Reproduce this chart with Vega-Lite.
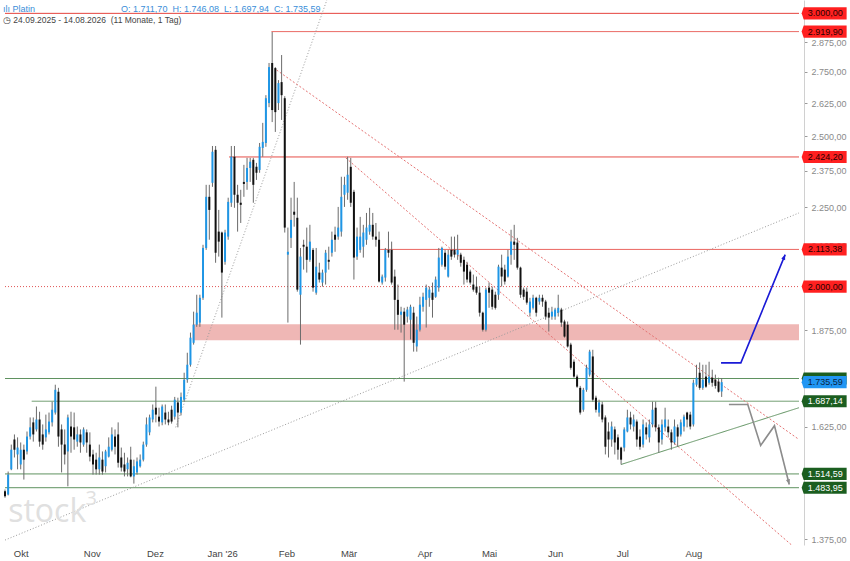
{
  "$schema": "https://vega.github.io/schema/vega-lite/v6.json",
  "width": 804,
  "height": 545,
  "autosize": {"type": "none"},
  "padding": {"left": 0, "top": 0, "right": 46, "bottom": 16},
  "background": "white",
  "config": {"view": {"stroke": null}, "font": "Liberation Sans"},
  "title": {
    "text": "ılı Platin\u2003\u2003\u2003\u2003\u2003\u2003\u2003\u2003\u2003\u00a0\u00a0O: 1.711,70\u00a0\u00a0H: 1.746,08\u00a0\u00a0L: 1.697,94\u00a0\u00a0C: 1.735,59",
    "subtitle": "◷ 24.09.2025 - 14.08.2026\u00a0 (11 Monate, 1 Tag)",
    "anchor": "start", "frame": "group", "orient": "top", "offset": -24, "dx": 3,
    "fontSize": 9, "fontWeight": "normal", "color": "#3a8ed8",
    "subtitleFontSize": 8.5, "subtitleColor": "#444", "subtitlePadding": 2
  },
  "resolve": {"scale": {"color": "independent", "strokeDash": "independent"}},
  "datasets": {
    "candles": [
      {"t":0,"o":1476,"h":1480,"l":1462,"c":1465},
      {"t":1,"o":1469,"h":1520,"l":1467,"c":1513},
      {"t":2,"o":1525,"h":1582,"l":1523,"c":1570},
      {"t":3,"o":1594,"h":1606,"l":1552,"c":1570},
      {"t":4,"o":1559,"h":1599,"l":1525,"c":1575},
      {"t":5,"o":1536,"h":1587,"l":1525,"c":1570},
      {"t":6,"o":1570,"h":1582,"l":1502,"c":1547},
      {"t":7,"o":1566,"h":1613,"l":1559,"c":1601},
      {"t":8,"o":1601,"h":1647,"l":1594,"c":1623},
      {"t":9,"o":1635,"h":1647,"l":1589,"c":1606},
      {"t":10,"o":1618,"h":1674,"l":1613,"c":1642},
      {"t":11,"o":1642,"h":1661,"l":1577,"c":1589},
      {"t":12,"o":1606,"h":1630,"l":1570,"c":1582},
      {"t":13,"o":1599,"h":1654,"l":1589,"c":1618},
      {"t":14,"o":1611,"h":1659,"l":1606,"c":1637},
      {"t":15,"o":1635,"h":1686,"l":1625,"c":1666},
      {"t":16,"o":1659,"h":1729,"l":1654,"c":1716},
      {"t":17,"o":1711,"h":1721,"l":1577,"c":1601},
      {"t":18,"o":1618,"h":1630,"l":1518,"c":1582},
      {"t":19,"o":1582,"h":1618,"l":1536,"c":1559},
      {"t":20,"o":1566,"h":1654,"l":1487,"c":1647},
      {"t":21,"o":1625,"h":1661,"l":1563,"c":1601},
      {"t":22,"o":1623,"h":1659,"l":1570,"c":1594},
      {"t":23,"o":1589,"h":1625,"l":1577,"c":1606},
      {"t":24,"o":1606,"h":1618,"l":1563,"c":1587},
      {"t":25,"o":1582,"h":1623,"l":1577,"c":1618},
      {"t":26,"o":1611,"h":1618,"l":1563,"c":1587},
      {"t":27,"o":1582,"h":1611,"l":1543,"c":1554},
      {"t":28,"o":1559,"h":1570,"l":1513,"c":1536},
      {"t":29,"o":1547,"h":1563,"l":1513,"c":1525},
      {"t":30,"o":1525,"h":1582,"l":1513,"c":1552},
      {"t":31,"o":1547,"h":1566,"l":1513,"c":1520},
      {"t":32,"o":1532,"h":1570,"l":1518,"c":1566},
      {"t":33,"o":1554,"h":1599,"l":1552,"c":1577},
      {"t":34,"o":1570,"h":1623,"l":1566,"c":1606},
      {"t":35,"o":1601,"h":1618,"l":1559,"c":1577},
      {"t":36,"o":1606,"h":1635,"l":1529,"c":1540},
      {"t":37,"o":1552,"h":1575,"l":1520,"c":1529},
      {"t":38,"o":1536,"h":1563,"l":1509,"c":1520},
      {"t":39,"o":1525,"h":1552,"l":1509,"c":1540},
      {"t":40,"o":1547,"h":1577,"l":1507,"c":1509},
      {"t":41,"o":1509,"h":1547,"l":1493,"c":1532},
      {"t":42,"o":1518,"h":1552,"l":1513,"c":1543},
      {"t":43,"o":1532,"h":1559,"l":1529,"c":1547},
      {"t":44,"o":1547,"h":1589,"l":1543,"c":1582},
      {"t":45,"o":1582,"h":1647,"l":1577,"c":1630},
      {"t":46,"o":1611,"h":1654,"l":1604,"c":1647},
      {"t":47,"o":1642,"h":1679,"l":1635,"c":1666},
      {"t":48,"o":1671,"h":1724,"l":1635,"c":1654},
      {"t":49,"o":1649,"h":1671,"l":1625,"c":1637},
      {"t":50,"o":1635,"h":1679,"l":1628,"c":1674},
      {"t":51,"o":1659,"h":1679,"l":1630,"c":1642},
      {"t":52,"o":1642,"h":1661,"l":1628,"c":1635},
      {"t":53,"o":1666,"h":1676,"l":1632,"c":1637},
      {"t":54,"o":1649,"h":1698,"l":1642,"c":1691},
      {"t":55,"o":1684,"h":1696,"l":1623,"c":1659},
      {"t":56,"o":1659,"h":1709,"l":1652,"c":1698},
      {"t":57,"o":1691,"h":1760,"l":1686,"c":1742},
      {"t":58,"o":1742,"h":1813,"l":1734,"c":1781},
      {"t":59,"o":1781,"h":1868,"l":1776,"c":1854},
      {"t":60,"o":1840,"h":1927,"l":1835,"c":1890},
      {"t":61,"o":1890,"h":1976,"l":1884,"c":1924},
      {"t":62,"o":1896,"h":1976,"l":1884,"c":1967},
      {"t":63,"o":1967,"h":2128,"l":1961,"c":2118},
      {"t":64,"o":2118,"h":2326,"l":2112,"c":2285},
      {"t":65,"o":2285,"h":2326,"l":2144,"c":2241},
      {"t":66,"o":2333,"h":2464,"l":2319,"c":2443},
      {"t":67,"o":2450,"h":2464,"l":2072,"c":2103},
      {"t":68,"o":2170,"h":2241,"l":2091,"c":2138},
      {"t":69,"o":2167,"h":2170,"l":1910,"c":2042},
      {"t":70,"o":2075,"h":2176,"l":2066,"c":2167},
      {"t":71,"o":2154,"h":2282,"l":2144,"c":2268},
      {"t":72,"o":2265,"h":2464,"l":2251,"c":2425},
      {"t":73,"o":2425,"h":2464,"l":2248,"c":2292},
      {"t":74,"o":2292,"h":2326,"l":2170,"c":2265},
      {"t":75,"o":2265,"h":2309,"l":2198,"c":2258},
      {"t":76,"o":2336,"h":2396,"l":2285,"c":2329},
      {"t":77,"o":2336,"h":2421,"l":2309,"c":2385},
      {"t":78,"o":2385,"h":2421,"l":2336,"c":2407},
      {"t":79,"o":2414,"h":2421,"l":2265,"c":2326},
      {"t":80,"o":2389,"h":2403,"l":2343,"c":2368},
      {"t":81,"o":2378,"h":2475,"l":2368,"c":2461},
      {"t":82,"o":2457,"h":2550,"l":2425,"c":2479},
      {"t":83,"o":2475,"h":2657,"l":2461,"c":2645},
      {"t":84,"o":2626,"h":2787,"l":2610,"c":2770},
      {"t":85,"o":2787,"h":2918,"l":2553,"c":2599},
      {"t":86,"o":2766,"h":2770,"l":2516,"c":2591},
      {"t":87,"o":2626,"h":2717,"l":2599,"c":2705},
      {"t":88,"o":2709,"h":2820,"l":2561,"c":2657},
      {"t":89,"o":2645,"h":2653,"l":2167,"c":2183},
      {"t":90,"o":2097,"h":2183,"l":1896,"c":2106},
      {"t":91,"o":2150,"h":2282,"l":2118,"c":2208},
      {"t":92,"o":2235,"h":2336,"l":2186,"c":2225},
      {"t":93,"o":2215,"h":2282,"l":1985,"c":1991},
      {"t":94,"o":1976,"h":2118,"l":1835,"c":2091},
      {"t":95,"o":2128,"h":2144,"l":2051,"c":2122},
      {"t":96,"o":2122,"h":2183,"l":2042,"c":2081},
      {"t":97,"o":2081,"h":2192,"l":2075,"c":2138},
      {"t":98,"o":2112,"h":2118,"l":1985,"c":1997},
      {"t":99,"o":1982,"h":2118,"l":1976,"c":2060},
      {"t":100,"o":2042,"h":2072,"l":2012,"c":2021},
      {"t":101,"o":2012,"h":2051,"l":2000,"c":2042},
      {"t":102,"o":2042,"h":2112,"l":2006,"c":2103},
      {"t":103,"o":2081,"h":2122,"l":2051,"c":2075},
      {"t":104,"o":2103,"h":2170,"l":2091,"c":2144},
      {"t":105,"o":2160,"h":2186,"l":2106,"c":2144},
      {"t":106,"o":2154,"h":2251,"l":2144,"c":2183},
      {"t":107,"o":2170,"h":2354,"l":2154,"c":2285},
      {"t":108,"o":2292,"h":2354,"l":2251,"c":2326},
      {"t":109,"o":2299,"h":2425,"l":2275,"c":2361},
      {"t":110,"o":2389,"h":2421,"l":2251,"c":2265},
      {"t":111,"o":2302,"h":2309,"l":2021,"c":2088},
      {"t":112,"o":2091,"h":2183,"l":2081,"c":2154},
      {"t":113,"o":2112,"h":2218,"l":2103,"c":2154},
      {"t":114,"o":2122,"h":2192,"l":2088,"c":2167},
      {"t":115,"o":2144,"h":2231,"l":2128,"c":2183},
      {"t":116,"o":2170,"h":2248,"l":2160,"c":2192},
      {"t":117,"o":2192,"h":2231,"l":2144,"c":2154},
      {"t":118,"o":2154,"h":2198,"l":2122,"c":2144},
      {"t":119,"o":2144,"h":2170,"l":2012,"c":2015},
      {"t":120,"o":2012,"h":2036,"l":2006,"c":2030},
      {"t":121,"o":2027,"h":2118,"l":2015,"c":2112},
      {"t":122,"o":2112,"h":2170,"l":2088,"c":2103},
      {"t":123,"o":2112,"h":2138,"l":2006,"c":2012},
      {"t":124,"o":2030,"h":2051,"l":1876,"c":1961},
      {"t":125,"o":1961,"h":2006,"l":1876,"c":1918},
      {"t":126,"o":1918,"h":1941,"l":1868,"c":1927},
      {"t":127,"o":1927,"h":1938,"l":1737,"c":1890},
      {"t":128,"o":1913,"h":1941,"l":1896,"c":1933},
      {"t":129,"o":1904,"h":1947,"l":1849,"c":1941},
      {"t":130,"o":1924,"h":1941,"l":1816,"c":1840},
      {"t":131,"o":1830,"h":1913,"l":1816,"c":1876},
      {"t":132,"o":1876,"h":1970,"l":1871,"c":1947},
      {"t":133,"o":1941,"h":1982,"l":1927,"c":1970},
      {"t":134,"o":1961,"h":2006,"l":1882,"c":1997},
      {"t":135,"o":1967,"h":2000,"l":1941,"c":1991},
      {"t":136,"o":1982,"h":2012,"l":1910,"c":1961},
      {"t":137,"o":1970,"h":2030,"l":1967,"c":2021},
      {"t":138,"o":1997,"h":2118,"l":1985,"c":2088},
      {"t":139,"o":2066,"h":2122,"l":2060,"c":2118},
      {"t":140,"o":2103,"h":2112,"l":2051,"c":2060},
      {"t":141,"o":2030,"h":2112,"l":2027,"c":2097},
      {"t":142,"o":2112,"h":2154,"l":2081,"c":2091},
      {"t":143,"o":2112,"h":2154,"l":2088,"c":2097},
      {"t":144,"o":2097,"h":2160,"l":2081,"c":2112},
      {"t":145,"o":2097,"h":2103,"l":2060,"c":2072},
      {"t":146,"o":2081,"h":2091,"l":2006,"c":2045},
      {"t":147,"o":2066,"h":2075,"l":2012,"c":2021},
      {"t":148,"o":2045,"h":2051,"l":2006,"c":2012},
      {"t":149,"o":2006,"h":2036,"l":1985,"c":1991},
      {"t":150,"o":2000,"h":2030,"l":1976,"c":1982},
      {"t":151,"o":1982,"h":2000,"l":1913,"c":1924},
      {"t":152,"o":1924,"h":1927,"l":1871,"c":1876},
      {"t":153,"o":1876,"h":1997,"l":1871,"c":1991},
      {"t":154,"o":1997,"h":2012,"l":1938,"c":1982},
      {"t":155,"o":1991,"h":2000,"l":1933,"c":1941},
      {"t":156,"o":1976,"h":1985,"l":1933,"c":1938},
      {"t":157,"o":1976,"h":2066,"l":1961,"c":2060},
      {"t":158,"o":2057,"h":2097,"l":2000,"c":2030},
      {"t":159,"o":2051,"h":2066,"l":2006,"c":2015},
      {"t":160,"o":2030,"h":2112,"l":2027,"c":2091},
      {"t":161,"o":2097,"h":2176,"l":2066,"c":2138},
      {"t":162,"o":2138,"h":2192,"l":2081,"c":2128},
      {"t":163,"o":2135,"h":2150,"l":2051,"c":2057},
      {"t":164,"o":2057,"h":2060,"l":1967,"c":1976},
      {"t":165,"o":1991,"h":1997,"l":1961,"c":1970},
      {"t":166,"o":1985,"h":1997,"l":1947,"c":1953},
      {"t":167,"o":1924,"h":1967,"l":1913,"c":1956},
      {"t":168,"o":1938,"h":1976,"l":1933,"c":1967},
      {"t":169,"o":1967,"h":1970,"l":1913,"c":1924},
      {"t":170,"o":1956,"h":1976,"l":1947,"c":1967},
      {"t":171,"o":1967,"h":1976,"l":1941,"c":1956},
      {"t":172,"o":1956,"h":1961,"l":1904,"c":1913},
      {"t":173,"o":1924,"h":1938,"l":1871,"c":1910},
      {"t":174,"o":1913,"h":1941,"l":1904,"c":1927},
      {"t":175,"o":1913,"h":1938,"l":1904,"c":1933},
      {"t":176,"o":1924,"h":1976,"l":1913,"c":1938},
      {"t":177,"o":1933,"h":1938,"l":1884,"c":1896},
      {"t":178,"o":1899,"h":1904,"l":1854,"c":1857},
      {"t":179,"o":1890,"h":1899,"l":1827,"c":1830},
      {"t":180,"o":1835,"h":1840,"l":1768,"c":1773},
      {"t":181,"o":1789,"h":1795,"l":1747,"c":1750},
      {"t":182,"o":1750,"h":1755,"l":1721,"c":1724},
      {"t":183,"o":1721,"h":1726,"l":1654,"c":1659},
      {"t":184,"o":1666,"h":1721,"l":1661,"c":1716},
      {"t":185,"o":1716,"h":1781,"l":1711,"c":1773},
      {"t":186,"o":1755,"h":1821,"l":1750,"c":1816},
      {"t":187,"o":1803,"h":1821,"l":1686,"c":1691},
      {"t":188,"o":1696,"h":1701,"l":1659,"c":1666},
      {"t":189,"o":1659,"h":1691,"l":1649,"c":1684},
      {"t":190,"o":1679,"h":1686,"l":1635,"c":1642},
      {"t":191,"o":1647,"h":1652,"l":1559,"c":1577},
      {"t":192,"o":1613,"h":1635,"l":1552,"c":1594},
      {"t":193,"o":1594,"h":1637,"l":1577,"c":1625},
      {"t":194,"o":1618,"h":1625,"l":1559,"c":1587},
      {"t":195,"o":1599,"h":1606,"l":1547,"c":1570},
      {"t":196,"o":1575,"h":1577,"l":1536,"c":1547},
      {"t":197,"o":1575,"h":1623,"l":1566,"c":1618},
      {"t":198,"o":1613,"h":1666,"l":1611,"c":1647},
      {"t":199,"o":1647,"h":1661,"l":1618,"c":1630},
      {"t":200,"o":1625,"h":1654,"l":1613,"c":1642},
      {"t":201,"o":1637,"h":1642,"l":1577,"c":1594},
      {"t":202,"o":1601,"h":1618,"l":1570,"c":1577},
      {"t":203,"o":1582,"h":1642,"l":1575,"c":1630},
      {"t":204,"o":1623,"h":1635,"l":1594,"c":1606},
      {"t":205,"o":1599,"h":1642,"l":1587,"c":1630},
      {"t":206,"o":1630,"h":1686,"l":1623,"c":1666},
      {"t":207,"o":1671,"h":1686,"l":1613,"c":1623},
      {"t":208,"o":1623,"h":1630,"l":1563,"c":1587},
      {"t":209,"o":1594,"h":1642,"l":1582,"c":1630},
      {"t":210,"o":1623,"h":1671,"l":1613,"c":1642},
      {"t":211,"o":1625,"h":1642,"l":1599,"c":1611},
      {"t":212,"o":1611,"h":1618,"l":1570,"c":1587},
      {"t":213,"o":1587,"h":1642,"l":1582,"c":1625},
      {"t":214,"o":1623,"h":1630,"l":1577,"c":1601},
      {"t":215,"o":1606,"h":1642,"l":1601,"c":1635},
      {"t":216,"o":1625,"h":1654,"l":1613,"c":1649},
      {"t":217,"o":1659,"h":1661,"l":1623,"c":1642},
      {"t":218,"o":1654,"h":1661,"l":1618,"c":1625},
      {"t":219,"o":1630,"h":1742,"l":1625,"c":1734},
      {"t":220,"o":1729,"h":1781,"l":1724,"c":1747},
      {"t":221,"o":1760,"h":1787,"l":1716,"c":1721},
      {"t":222,"o":1721,"h":1781,"l":1716,"c":1742},
      {"t":223,"o":1750,"h":1781,"l":1721,"c":1724},
      {"t":224,"o":1734,"h":1789,"l":1729,"c":1750},
      {"t":225,"o":1747,"h":1768,"l":1724,"c":1734},
      {"t":226,"o":1742,"h":1755,"l":1719,"c":1726},
      {"t":227,"o":1737,"h":1747,"l":1709,"c":1711},
      {"t":228,"o":1711.7,"h":1746.08,"l":1697.94,"c":1735.59}
    ],
    "levels": [
      {"t1":0,"t2":252.6,"v":3000,"k":"r"},
      {"t1":84.8,"t2":252.6,"v":2919.9,"k":"r"},
      {"t1":71.3,"t2":252.6,"v":2424.2,"k":"r"},
      {"t1":119.4,"t2":252.6,"v":2113.38,"k":"r"},
      {"t1":0,"t2":252.6,"v":2000,"k":"rd"},
      {"t1":0,"t2":252.6,"v":1745,"k":"g"},
      {"t1":8.5,"t2":252.6,"v":1687.14,"k":"g"},
      {"t1":0,"t2":252.6,"v":1514.59,"k":"g"},
      {"t1":0,"t2":252.6,"v":1483.95,"k":"g"}
    ],
    "zone": [{"t1":59.7,"t2":252.6,"v1":1847,"v2":1891}],
    "trends": [
      {"t1":0,"v1":1373,"t2":252.6,"v2":2231,"k":"gd"},
      {"t1":54.3,"v1":1623,"t2":102.4,"v2":3060,"k":"gd"},
      {"t1":86.4,"v1":2758,"t2":252.6,"v2":1594,"k":"rd"},
      {"t1":108.4,"v1":2421,"t2":252.6,"v2":1350,"k":"rd"},
      {"t1":196,"v1":1536,"t2":252.6,"v2":1671,"k":"gs"}
    ],
    "arrows": [
      {"id":"up","i":0,"t":227.8,"v":1786},
      {"id":"up","i":1,"t":234.1,"v":1786},
      {"id":"up","i":2,"t":248.2,"v":2097},
      {"id":"dn","i":0,"t":230.3,"v":1679},
      {"id":"dn","i":1,"t":236.3,"v":1679},
      {"id":"dn","i":2,"t":240.4,"v":1580},
      {"id":"dn","i":3,"t":244.8,"v":1627},
      {"id":"dn","i":4,"t":249.5,"v":1491}
    ],
    "heads": [
      {"id":"up","t":248.2,"v":2097},
      {"id":"dn","t":249.5,"v":1491}
    ],
    "tags": [
      {"v":3000,"lab":"3.000,00","k":"r"},
      {"v":2919.9,"lab":"2.919,90","k":"r"},
      {"v":2424.2,"lab":"2.424,20","k":"r"},
      {"v":2113.38,"lab":"2.113,38","k":"r"},
      {"v":2000,"lab":"2.000,00","k":"r"},
      {"v":1745,"lab":"1.745,31","k":"g"},
      {"v":1735.59,"lab":"1.735,59","k":"b"},
      {"v":1687.14,"lab":"1.687,14","k":"g"},
      {"v":1514.59,"lab":"1.514,59","k":"g"},
      {"v":1483.95,"lab":"1.483,95","k":"g"}
    ]
  },
  "layer": [
    {
      "data": {"name": "candles"},
      "mark": {"type": "bar", "size": 2},
      "encoding": {
        "x": {
          "field": "t", "type": "quantitative",
          "scale": {"domain": [0, 252.6], "nice": false, "zero": false},
          "axis": {
            "title": null, "grid": false, "domain": false, "ticks": false,
            "values": [5, 27.6, 47.7, 69.1, 89.5, 109.3, 133.5, 154, 175, 196.4, 219],
            "labelExpr": "datum.value < 10 ? 'Okt' : datum.value < 35 ? 'Nov' : datum.value < 55 ? 'Dez' : datum.value < 80 ? \"Jan '26\" : datum.value < 100 ? 'Feb' : datum.value < 120 ? 'Mär' : datum.value < 140 ? 'Apr' : datum.value < 160 ? 'Mai' : datum.value < 185 ? 'Jun' : datum.value < 205 ? 'Jul' : 'Aug'",
            "labelFontSize": 9.5, "labelColor": "#444", "labelPadding": 3, "labelOverlap": false, "labelFlush": false
          }
        },
        "y": {
          "field": "o", "type": "quantitative",
          "scale": {"type": "log", "domain": [1363, 3060], "nice": false},
          "axis": {
            "orient": "right", "title": null, "grid": false,
            "values": [1375, 1625, 1875, 2125, 2250, 2375, 2500, 2625, 2750, 2875],
            "labelExpr": "replace(replace(replace(format(datum.value, ',.2f'), ',', '_'), '.', ','), '_', '.')",
            "domainColor": "#d0d0d0", "tickColor": "#9a9a9a", "tickSize": 3, "labelPadding": 4,
            "labelFontSize": 9, "labelColor": "#8a8a8a", "labelOverlap": false
          }
        },
        "y2": {"field": "c"},
        "opacity": {"value": 0}
      }
    },
    {
      "data": {"name": "zone"},
      "mark": {"type": "rect", "color": "#d9534f", "opacity": 0.42},
      "encoding": {
        "x": {"field": "t1", "type": "quantitative"},
        "x2": {"field": "t2"},
        "y": {"field": "v1", "type": "quantitative"},
        "y2": {"field": "v2"}
      }
    },
    {
      "data": {"name": "levels"},
      "mark": {"type": "rule", "strokeWidth": 1},
      "encoding": {
        "x": {"field": "t1", "type": "quantitative"},
        "x2": {"field": "t2"},
        "y": {"field": "v", "type": "quantitative"},
        "color": {"field": "k", "type": "nominal", "scale": {"domain": ["r", "rd", "g"], "range": ["#e5433d", "#e05555", "#5f9260"]}, "legend": null},
        "strokeDash": {"field": "k", "type": "nominal", "scale": {"domain": ["r", "rd", "g"], "range": [[1, 0], [1, 2], [1, 0]]}, "legend": null}
      }
    },
    {
      "data": {"name": "trends"},
      "mark": {"type": "rule", "strokeWidth": 1, "clip": true},
      "encoding": {
        "x": {"field": "t1", "type": "quantitative"},
        "x2": {"field": "t2"},
        "y": {"field": "v1", "type": "quantitative"},
        "y2": {"field": "v2"},
        "color": {"field": "k", "type": "nominal", "scale": {"domain": ["gd", "rd", "gs"], "range": ["#9a9a9a", "#e57373", "#5f9260"]}, "legend": null},
        "strokeDash": {"field": "k", "type": "nominal", "scale": {"domain": ["gd", "rd", "gs"], "range": [[1, 2], [2, 2], [1, 0]]}, "legend": null}
      }
    },
    {
      "data": {"name": "candles"},
      "mark": {"type": "rule", "color": "#6b6b6b", "strokeWidth": 1},
      "encoding": {
        "x": {"field": "t", "type": "quantitative"},
        "y": {"field": "l", "type": "quantitative"},
        "y2": {"field": "h"}
      }
    },
    {
      "data": {"name": "candles"},
      "mark": {"type": "bar", "size": 2},
      "encoding": {
        "x": {"field": "t", "type": "quantitative"},
        "y": {"field": "o", "type": "quantitative"},
        "y2": {"field": "c"},
        "color": {"condition": {"test": "datum.c >= datum.o", "value": "#1e96e6"}, "value": "#111111"}
      }
    },
    {
      "data": {"name": "arrows"},
      "mark": {"type": "line", "strokeWidth": 1.6},
      "encoding": {
        "x": {"field": "t", "type": "quantitative"},
        "y": {"field": "v", "type": "quantitative"},
        "detail": {"field": "id"},
        "order": {"field": "i"},
        "color": {"field": "id", "type": "nominal", "scale": {"domain": ["up", "dn"], "range": ["#1a1ad6", "#8c8c8c"]}, "legend": null}
      }
    },
    {
      "data": {"name": "heads"},
      "mark": {"type": "point", "shape": "M0,0L-0.7,1.7L0.7,1.7Z", "filled": true, "opacity": 1, "size": 36},
      "encoding": {
        "x": {"field": "t", "type": "quantitative"},
        "y": {"field": "v", "type": "quantitative"},
        "color": {"field": "id", "type": "nominal", "scale": {"domain": ["up", "dn"], "range": ["#1a1ad6", "#8c8c8c"]}, "legend": null},
        "angle": {"condition": {"test": "datum.id == 'up'", "value": 22.6}, "value": 165.7}
      }
    },
    {
      "data": {"values": [{"w": "stock"}]},
      "mark": {"type": "text", "align": "left", "baseline": "alphabetic", "fontSize": 32, "color": "#e0e0e0", "font": "Open Sans"},
      "encoding": {
        "x": {"datum": 1.0, "type": "quantitative"},
        "y": {"datum": 1410, "type": "quantitative"},
        "text": {"field": "w"}
      }
    },
    {
      "data": {"values": [{"w": "3"}]},
      "mark": {"type": "text", "align": "left", "baseline": "alphabetic", "fontSize": 20, "color": "#e0e0e0", "font": "Open Sans"},
      "encoding": {
        "x": {"datum": 25.6, "type": "quantitative"},
        "y": {"datum": 1447, "type": "quantitative"},
        "text": {"field": "w"}
      }
    },
    {
      "data": {"name": "tags"},
      "transform": [{"filter": "datum.k != 'b'"}],
      "mark": {"type": "point", "shape": "M-1,0L-0.91,-0.27L1,-0.27L1,0.27L-0.91,0.27Z", "filled": true, "opacity": 1, "size": 2025},
      "encoding": {
        "x": {"datum": 260.6, "type": "quantitative"},
        "y": {"field": "v", "type": "quantitative"},
        "color": {"field": "k", "type": "nominal", "scale": {"domain": ["r", "g"], "range": ["#ff2020", "#1b5e20"]}, "legend": null}
      }
    },
    {
      "data": {"name": "tags"},
      "transform": [{"filter": "datum.k != 'b'"}],
      "mark": {"type": "text", "align": "center", "baseline": "middle", "fontSize": 9, "dx": 1},
      "encoding": {
        "x": {"datum": 260.6, "type": "quantitative"},
        "y": {"field": "v", "type": "quantitative"},
        "text": {"field": "lab"},
        "color": {"field": "k", "type": "nominal", "scale": {"domain": ["r", "g"], "range": ["#2a0000", "#ffffff"]}, "legend": null}
      }
    },
    {
      "data": {"name": "tags"},
      "transform": [{"filter": "datum.k == 'b'"}],
      "mark": {"type": "point", "shape": "M-1,0L-0.91,-0.27L1,-0.27L1,0.27L-0.91,0.27Z", "filled": true, "opacity": 1, "size": 2025, "color": "#2196f3"},
      "encoding": {
        "x": {"datum": 260.6, "type": "quantitative"},
        "y": {"field": "v", "type": "quantitative"}
      }
    },
    {
      "data": {"name": "tags"},
      "transform": [{"filter": "datum.k == 'b'"}],
      "mark": {"type": "text", "align": "center", "baseline": "middle", "fontSize": 9, "dx": 1, "color": "#0b2540"},
      "encoding": {
        "x": {"datum": 260.6, "type": "quantitative"},
        "y": {"field": "v", "type": "quantitative"},
        "text": {"field": "lab"}
      }
    }
  ]
}
